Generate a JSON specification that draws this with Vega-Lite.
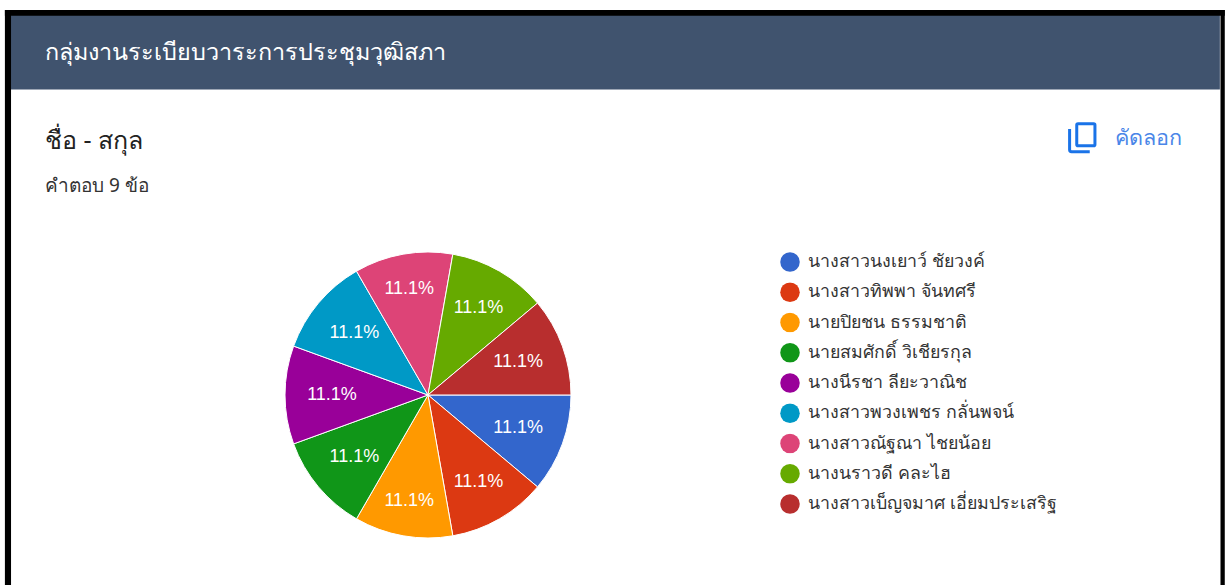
{
"$schema":"https://vega.github.io/schema/vega-lite/v6.json",
"width":1226,"height":585,"autosize":"none","padding":0,"background":"white",
"config":{"view":{"stroke":null},"font":"Noto Sans"},
"datasets":{"rows":[
{"name":"นางสาวนงเยาว์ ชัยวงค์","count":1,"pct":"11.1%","rank":1},
{"name":"นางสาวทิพพา จันทศรี","count":1,"pct":"11.1%","rank":2},
{"name":"นายปิยชน ธรรมชาติ","count":1,"pct":"11.1%","rank":3},
{"name":"นายสมศักดิ์ วิเชียรกุล","count":1,"pct":"11.1%","rank":4},
{"name":"นางนีรชา ลียะวาณิช","count":1,"pct":"11.1%","rank":5},
{"name":"นางสาวพวงเพชร กลั่นพจน์","count":1,"pct":"11.1%","rank":6},
{"name":"นางสาวณัฐณา ไชยน้อย","count":1,"pct":"11.1%","rank":7},
{"name":"นางนราวดี คละไฮ","count":1,"pct":"11.1%","rank":8},
{"name":"นางสาวเบ็ญจมาศ เอี่ยมประเสริฐ","count":1,"pct":"11.1%","rank":9}
],"one":[{"a":1}]},
"data":{"name":"rows"},
"layer":[
{"data":{"name":"one"},"mark":{"type":"rect","color":"#40536e"},"encoding":{
"x":{"datum":0.008,"type":"quantitative","scale":{"domain":[0,1]},"axis":null},"x2":{"datum":0.995},
"y":{"datum":0.022,"type":"quantitative","scale":{"domain":[0,1],"reverse":true},"axis":null},"y2":{"datum":0.153}}},
{"data":{"name":"one"},"mark":{"type":"rect","color":"black"},"encoding":{
"x":{"datum":0.004,"type":"quantitative","scale":{"domain":[0,1]},"axis":null},"x2":{"datum":0.999},
"y":{"datum":0.017,"type":"quantitative","scale":{"domain":[0,1],"reverse":true},"axis":null},"y2":{"datum":0.027}}},
{"data":{"name":"one"},"mark":{"type":"rect","color":"black"},"encoding":{
"x":{"datum":0.004,"type":"quantitative","scale":{"domain":[0,1]},"axis":null},"x2":{"datum":0.009},
"y":{"datum":0.017,"type":"quantitative","scale":{"domain":[0,1],"reverse":true},"axis":null},"y2":{"datum":1}}},
{"data":{"name":"one"},"mark":{"type":"rect","color":"black"},"encoding":{
"x":{"datum":0.9955,"type":"quantitative","scale":{"domain":[0,1]},"axis":null},"x2":{"datum":0.999},
"y":{"datum":0.017,"type":"quantitative","scale":{"domain":[0,1],"reverse":true},"axis":null},"y2":{"datum":1}}},
{"mark":{"type":"arc","outerRadius":143,"stroke":"white","strokeWidth":1},"encoding":{
"x":{"datum":0.3491,"type":"quantitative","scale":{"domain":[0,1]},"axis":null},
"y":{"datum":0.6752,"type":"quantitative","scale":{"domain":[0,1],"reverse":true},"axis":null},
"theta":{"field":"count","type":"quantitative","stack":true,"scale":{"domain":[0,9],"range":[1.5708,7.854]}},
"order":{"field":"rank","type":"quantitative"},
"color":{"field":"name","type":"nominal","sort":{"field":"rank"},
"scale":{"domain":["นางสาวนงเยาว์ ชัยวงค์","นางสาวทิพพา จันทศรี","นายปิยชน ธรรมชาติ","นายสมศักดิ์ วิเชียรกุล","นางนีรชา ลียะวาณิช","นางสาวพวงเพชร กลั่นพจน์","นางสาวณัฐณา ไชยน้อย","นางนราวดี คละไฮ","นางสาวเบ็ญจมาศ เอี่ยมประเสริฐ"],
"range":["#3366cc","#dc3912","#ff9900","#109618","#990099","#0099c6","#dd4477","#66aa00","#b82e2e"]},
"legend":{"title":null,"orient":"none","legendX":780,"legendY":252,"symbolType":"circle","symbolSize":380,"symbolStrokeWidth":0,"labelFontSize":17.8,"labelColor":"#333333","labelLimit":320,"labelOffset":8,"rowPadding":10.25,"clipHeight":20,"labelFont":"Noto Sans"}}}},
{"transform":[
{"stack":"count","sort":[{"field":"rank","order":"ascending"}],"as":["t0","t1"]},
{"calculate":"(datum.t0+datum.t1)/2","as":"mid"},
{"calculate":"datum.rank==3||datum.rank==7?108:(datum.rank==2||datum.rank==8?101:96)","as":"labelRadius"}],
"mark":{"type":"text","color":"white","fontSize":18,"font":"Liberation Sans"},"encoding":{
"x":{"datum":0.3491,"type":"quantitative","scale":{"domain":[0,1]},"axis":null},
"y":{"datum":0.6752,"type":"quantitative","scale":{"domain":[0,1],"reverse":true},"axis":null},
"theta":{"field":"mid","type":"quantitative","stack":null,"scale":{"domain":[0,9],"range":[1.5708,7.854]}},
"radius":{"field":"labelRadius","type":"quantitative","scale":null},
"text":{"field":"pct"}}},
{"data":{"name":"one"},"mark":{"type":"text","align":"left","baseline":"middle","color":"white","fontSize":23.4,"font":"Noto Sans"},"encoding":{
"x":{"datum":0.0367,"type":"quantitative","scale":{"domain":[0,1]},"axis":null},
"y":{"datum":0.0905,"type":"quantitative","scale":{"domain":[0,1],"reverse":true},"axis":null},
"text":{"value":"กลุ่มงานระเบียบวาระการประชุมวุฒิสภา"}}},
{"data":{"name":"one"},"mark":{"type":"text","align":"left","baseline":"middle","color":"#222222","fontSize":25,"font":"Noto Sans"},"encoding":{
"x":{"datum":0.0367,"type":"quantitative","scale":{"domain":[0,1]},"axis":null},
"y":{"datum":0.2405,"type":"quantitative","scale":{"domain":[0,1],"reverse":true},"axis":null},
"text":{"value":"ชื่อ - สกุล"}}},
{"data":{"name":"one"},"mark":{"type":"text","align":"left","baseline":"middle","color":"#333333","fontSize":19,"font":"Noto Sans"},"encoding":{
"x":{"datum":0.0367,"type":"quantitative","scale":{"domain":[0,1]},"axis":null},
"y":{"datum":0.318,"type":"quantitative","scale":{"domain":[0,1],"reverse":true},"axis":null},
"text":{"value":"คำตอบ 9 ข้อ"}}},
{"data":{"name":"one"},"mark":{"type":"text","align":"left","baseline":"middle","color":"#4a86e8","fontSize":21.6,"font":"Noto Sans"},"encoding":{
"x":{"datum":0.9095,"type":"quantitative","scale":{"domain":[0,1]},"axis":null},
"y":{"datum":0.238,"type":"quantitative","scale":{"domain":[0,1],"reverse":true},"axis":null},
"text":{"value":"คัดลอก"}}},
{"data":{"name":"one"},"mark":{"type":"point","filled":false,"color":"#1a73e8","strokeWidth":3,"opacity":1,"size":676,"shape":"M -0.3 -1.1 H 0.9 Q 1 -1.1 1 -1 V 0.5 Q 1 0.6 0.9 0.6 H -0.3 Q -0.4 0.6 -0.4 0.5 V -1 Q -0.4 -1.1 -0.3 -1.1 Z M -0.95 -0.7 V 0.9 Q -0.95 1.05 -0.8 1.05 H 0.6"},"encoding":{
"x":{"datum":0.8825,"type":"quantitative","scale":{"domain":[0,1]},"axis":null},
"y":{"datum":0.236,"type":"quantitative","scale":{"domain":[0,1],"reverse":true},"axis":null}}}
]}
